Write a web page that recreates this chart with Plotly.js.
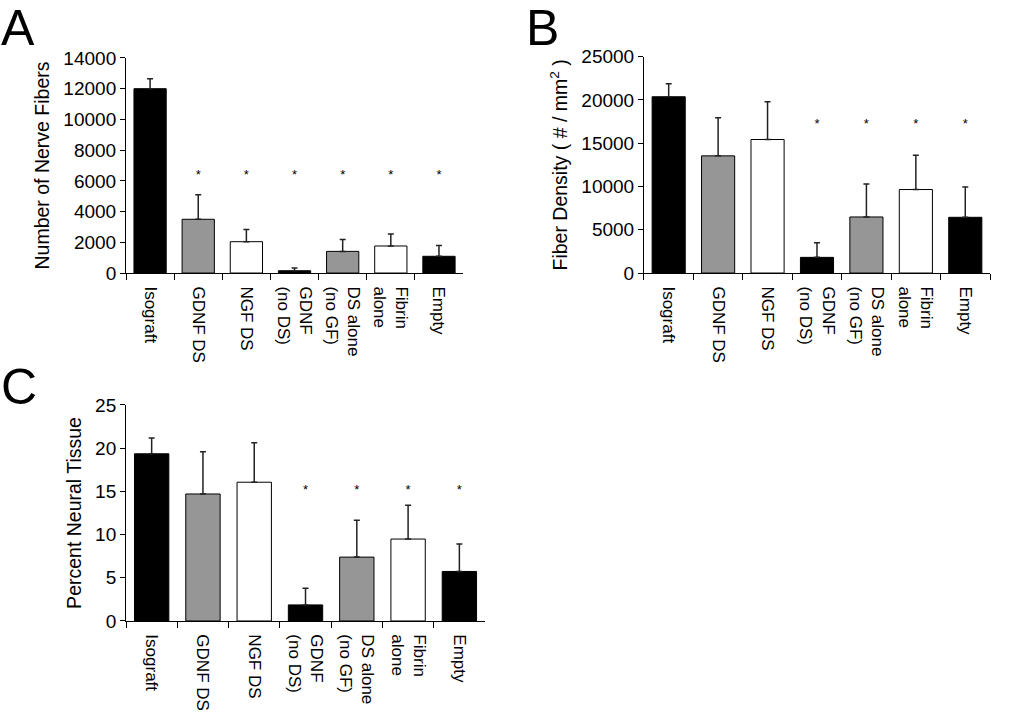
<!DOCTYPE html>
<html><head><meta charset="utf-8">
<script src="https://cdn.plot.ly/plotly-3.0.1.min.js"></script>
<style>body{margin:0;background:#fff}#chart{width:1013px;height:714px}</style>
</head><body><div id="chart"></div>
<script>
const categories = ["Isograft","GDNF DS","NGF DS","GDNF<br>(no DS)","DS alone<br>(no GF)","Fibrin<br>alone","Empty"];
const barColors = ["#000000","#969696","#ffffff","#000000","#969696","#ffffff","#000000"];

const fibersA = [12000, 3500, 2040, 150, 1410, 1760, 1090];
const fibersErrA = [650, 1600, 790, 170, 780, 780, 700];
const sigA = [false, true, true, true, true, true, true];
const starLevelA = 6300;

const densityB = [20370, 13540, 15430, 1810, 6480, 9650, 6440];
const densityErrB = [1500, 4400, 4360, 1700, 3820, 3970, 3510];
const sigB = [false, false, false, true, true, true, true];
const starLevelB = 17150;

const percentC = [19.35, 14.7, 16.06, 1.86, 7.39, 9.48, 5.73];
const percentErrC = [1.82, 4.88, 4.57, 1.93, 4.26, 3.91, 3.17];
const sigC = [false, false, false, true, true, true, true];
const starLevelC = 15.1;

const FONT = "Liberation Sans, Arial, sans-serif";

function barTrace(vals, errs, xa, ya){
  return {type:'bar', x:categories, y:vals, xaxis:xa, yaxis:ya,
    marker:{color:barColors, line:{color:'#000', width:1}},
    error_y:{type:'data', array:errs, arrayminus:errs.map(()=>0), symmetric:false,
      color:'#222', thickness:1.5, width:3},
    hoverinfo:'skip'};
}
function starTrace(sig, level, xa, ya){
  const xs=[], ys=[];
  sig.forEach((s,i)=>{ if(s){ xs.push(categories[i]); ys.push(level);} });
  return {type:'scatter', mode:'text', x:xs, y:ys, text:xs.map(()=>'*'),
    textfont:{family:FONT, size:13, color:'#000'}, textposition:'middle center',
    xaxis:xa, yaxis:ya, hoverinfo:'skip'};
}

const data = [
  barTrace(fibersA, fibersErrA, 'x', 'y'), starTrace(sigA, starLevelA, 'x', 'y'),
  barTrace(densityB, densityErrB, 'x2', 'y2'), starTrace(sigB, starLevelB, 'x2', 'y2'),
  barTrace(percentC, percentErrC, 'x3', 'y3'), starTrace(sigC, starLevelC, 'x3', 'y3')
];

function xAx(domain, anchor){
  return {domain:domain, anchor:anchor, type:'category', showline:true, linecolor:'#000', linewidth:1,
    ticks:'outside', ticklen:6, tickcolor:'#000', tickson:'boundaries', tickangle:90,
    ticklabelstandoff:9,
    tickfont:{family:FONT, size:17, color:'#000'}, showgrid:false, zeroline:false, fixedrange:true};
}
function yAx(domain, anchor, range, dtick, title){
  return {domain:domain, anchor:anchor, range:range, dtick:dtick, showline:true, linecolor:'#000', linewidth:1,
    ticks:'outside', ticklen:5, tickcolor:'#000', showgrid:false, zeroline:false,
    tickformat:'d', separatethousands:false,
    tickfont:{family:FONT, size:19, color:'#000'},
    title:{text:title, font:{family:FONT, size:19.5, color:'#000'}, standoff:8}};
}

const layout = {
  width:1013, height:714, margin:{l:0,r:0,t:0,b:0},
  paper_bgcolor:'#fff', plot_bgcolor:'#fff', showlegend:false, bargap:0.33,
  xaxis: xAx([0.1244,0.4571],'y'),
  yaxis: yAx([0.6176,0.9188],'x',[0,14000],2000,'Number of Nerve Fibers'),
  xaxis2: xAx([0.6357,0.9773],'y2'),
  yaxis2: yAx([0.6176,0.9206],'x2',[0,25000],5000,'Fiber Density ( # / mm<sup>2</sup> )'),
  xaxis3: xAx([0.1244,0.4788],'y3'),
  yaxis3: yAx([0.1303,0.4328],'x3',[0,25],5,'Percent Neural Tissue'),
  annotations:[
    {text:'A', xref:'paper', yref:'paper', x:-0.001, y:1.003, xanchor:'left', yanchor:'top', showarrow:false, font:{family:FONT,size:50,color:'#000'}},
    {text:'B', xref:'paper', yref:'paper', x:0.517, y:1.003, xanchor:'left', yanchor:'top', showarrow:false, font:{family:FONT,size:50,color:'#000'}},
    {text:'C', xref:'paper', yref:'paper', x:-0.001, y:0.5, xanchor:'left', yanchor:'top', showarrow:false, font:{family:FONT,size:50,color:'#000'}}
  ]
};
Plotly.newPlot('chart', data, layout, {displayModeBar:false, staticPlot:true});
</script></body></html>
